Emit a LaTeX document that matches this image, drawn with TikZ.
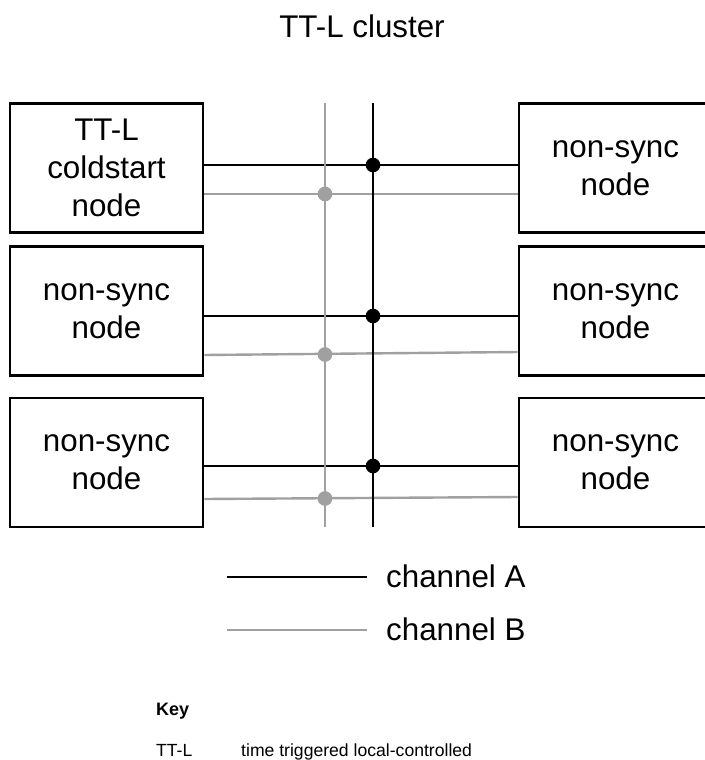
\documentclass[tikz,border=0pt]{standalone}
\usepackage{fontspec}
\setmainfont{Liberation Sans}
\usetikzlibrary{positioning}
\definecolor{chanB}{RGB}{160,160,160}

\begin{document}
\begin{tikzpicture}[x=0.75pt, y=-0.75pt, line width=1.8pt,
  nodebox/.style={draw, line width=1.9pt, minimum width=144.75pt, minimum height=97pt,
    align=center, inner sep=0pt, font=\fontsize{23.5}{28.5}\selectfont},
  lbl/.style={font=\fontsize{23.5}{28.5}\selectfont, inner sep=0pt},
  keytext/.style={font=\fontsize{13.2}{16}\selectfont, inner sep=0pt},
  chA/.style={draw=black, line width=1.8pt},
  chB/.style={draw=chanB, line width=1.8pt}]
  \useasboundingbox (0,0) rectangle (704,760);

  \node (title) [lbl, anchor=base] at (362,37) {TT-L cluster};

  % nodes on the left and right
  \node (l1) [nodebox] at (106.5,168) {TT-L\\coldstart\\node};
  \node (l2) [nodebox] at (106.5,311) {non-sync\\node};
  \node (l3) [nodebox] at (106.5,462.5) {non-sync\\node};
  \node (r1) [nodebox] at (615.5,168) {non-sync\\node};
  \node (r2) [nodebox] at (615.5,311) {non-sync\\node};
  \node (r3) [nodebox] at (615.5,462.5) {non-sync\\node};

  % bus ends
  \coordinate (btop) at (325,103);
  \coordinate (bbot) at (325,527);
  \coordinate (atop) at (373,103);
  \coordinate (abot) at (373,527);

  % links to the channels
  \draw[chA] (l1.east |- 0,165) -- (r1.west |- 0,165);
  \draw[chB] (l1.east |- 0,194) -- (r1.west |- 0,194);
  \draw[chA] (l2.east |- 0,316) -- (r2.west |- 0,316);
  \draw[chB] (l2.east |- 0,355) -- (r2.west |- 0,352);
  \draw[chA] (l3.east |- 0,466) -- (r3.west |- 0,466);
  \draw[chB] (l3.east |- 0,499) -- (r3.west |- 0,497);

  \draw[chB] (btop) -- (bbot);
  \draw[chA] (atop) -- (abot);

  \foreach \y in {165,316,466} \fill (373,\y) circle (5.5pt);
  \foreach \y in {194,354.5,498.5} \fill[chanB] (325,\y) circle (5.5pt);

  % legend
  \coordinate (la0) at (227,577);
  \coordinate (la1) at (367,577);
  \coordinate (lb0) at (227,630);
  \coordinate (lb1) at (367,630);
  \draw[chA] (la0) -- (la1);
  \draw[chB] (lb0) -- (lb1);
  \node (lblA) [lbl, anchor=base west] at (385,587) {channel A};
  \node (lblB) [lbl, anchor=base west] at (385,640) {channel B};

  % key
  \node (key) [keytext, anchor=base west, font=\fontsize{13.5}{16}\selectfont\bfseries] at (155,715) {Key};
  \node (abbr) [keytext, anchor=base west] at (155,756) {TT-L};
  \node (expl) [keytext, anchor=base west] at (240,756) {time triggered local-controlled};
\end{tikzpicture}
\end{document}
